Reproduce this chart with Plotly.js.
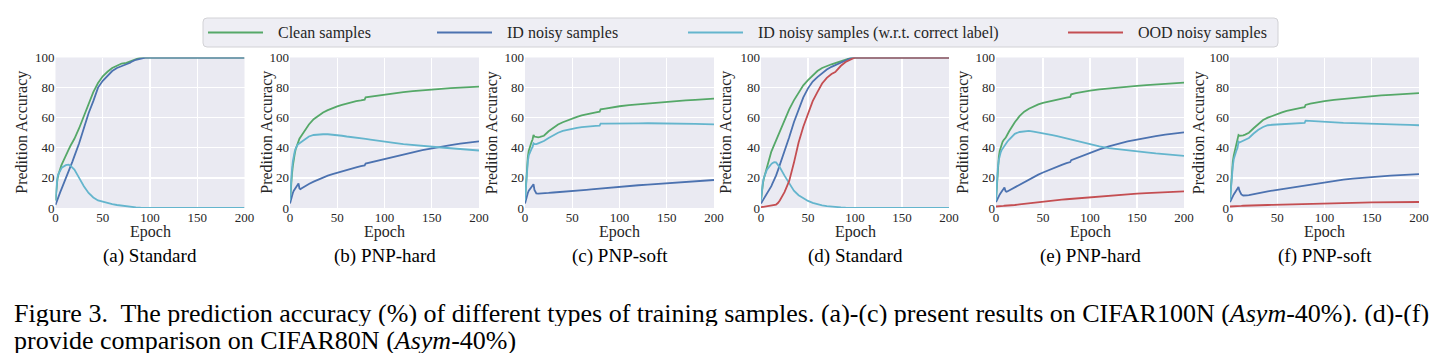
<!DOCTYPE html>
<html>
<head>
<meta charset="utf-8">
<script src="https://cdn.plot.ly/plotly-3.0.1.min.js"></script>
<style>
  html, body { margin: 0; padding: 0; background: #ffffff; }
  #chart { width: 1448px; height: 364px; }
</style>
</head>
<body>
<div id="chart"></div>
<script>
// ---------------- DATA ----------------
const EPOCHS = [0,1,2,3,4,5,6,7,8,9,10,11,12,14,16,18,20,25,30,35,40,45,50,55,60,65,70,75,79,80,85,90,95,100,110,120,130,140,150,160,170,180,190,200];

const SERIES_NAMES = ["Clean samples", "ID noisy samples", "ID noisy samples (w.r.t. correct label)", "OOD noisy samples"];
const PANEL_LABELS = ["(a) Standard", "(b) PNP-hard", "(c) PNP-soft", "(d) Standard", "(e) PNP-hard", "(f) PNP-soft"];
const X_TITLE = "Epoch";
const Y_TITLE = "Predition Accuracy";
const X_TICKS = [0, 50, 100, 150, 200];
const Y_TICKS = [0, 20, 40, 60, 80, 100];
const CAPTION_1 = "Figure 3.  The prediction accuracy (%) of different types of training samples. (a)-(c) present results on CIFAR100N (<i>Asym</i>-40%). (d)-(f)";
const CAPTION_2 = "provide comparison on CIFAR80N (<i>Asym</i>-40%)";

// (a) Standard, CIFAR100N
const A_CLEAN = [5,14,19,22,24.5,26.5,28,29.5,31,32.5,33.5,35,36.5,39,41.5,43.5,46,53,61,69,77,83,87.5,90.5,93,94.5,96,96.5,97.5,98,99.2,100,100,100,100,100,100,100,100,100,100,100,100,100];
const A_ID    = [2,4,6,7.5,9,10.5,12,13.5,15,16.5,18,19.5,21,24.5,28,31,34.5,43,53,63,71,80,84.5,88,91,93,94.5,95.5,96.5,97,98.5,99.5,100,100,100,100,100,100,100,100,100,100,100,100];
const A_IDC   = [5,15,20,22.5,24,25,26,27,27.5,28,28.3,28.5,28.7,28.8,28,27,25.5,20,14.5,10,7,5,4,3,2.5,2,1.5,1,0.7,0.6,0.4,0.2,0.1,0,0,0,0,0,0,0,0,0,0,0];

// (b) PNP-hard, CIFAR100N
const B_CLEAN = [4,15,22,28,33,36,39,41,43,44.5,46,47,48,50,52,54,55.5,59,61.5,63.5,65,66.5,67.5,68.5,69.5,70.2,71,71.5,72,73.5,74,74.5,75,75.5,76.3,77,77.6,78.2,78.7,79.2,79.6,80,80.3,80.6];
const B_ID    = [3,6,8,10,11.5,12.5,13.5,14.5,15.5,16.3,13,12.5,13,13.8,14.5,15.3,16,17.5,19,20.3,21.5,22.5,23.5,24.5,25.5,26.3,27,27.8,28.3,29.5,30.3,31,31.8,32.5,34,35.5,37,38.5,39.7,40.8,41.8,42.8,43.6,44.3];
const B_IDC   = [5,17,25,31,35,37.5,39.5,41,42,42.5,43,43.5,44,45,46,47,47.5,48.5,49,49,49,48.8,48.5,48,47.5,47.2,47,46.5,46,46,45.5,45,44.5,44,43.3,42.5,41.8,41.2,40.7,40.2,39.7,39.2,38.7,38.2];

// (c) PNP-soft, CIFAR100N
const C_CLEAN = [5,18,28,34,38,40.5,42.5,44,45.5,48.5,47.5,47.3,47,47,47.2,47.5,48,51,53.5,55.5,57,58.3,59.5,60.5,61.5,62.3,63,63.6,64,65.5,66,66.6,67.1,67.6,68.4,69,69.6,70.2,70.7,71.1,71.5,71.9,72.3,72.7];
const C_ID    = [3,6,8,10,11.5,12.5,13.3,14,14.8,15.8,12,10.3,9.7,9.5,9.5,9.6,9.8,10,10.3,10.5,10.8,11,11.2,11.5,11.8,12.1,12.4,12.7,12.9,13.1,13.4,13.7,14,14.3,14.7,15.1,15.5,16,16.5,16.9,17.3,17.8,18.2,18.6];
const C_IDC   = [5,16,25,31,35,37,38.5,39.5,40.5,43,42.5,42.3,42.5,43,43.5,44,44.5,46.5,48.5,50,51.2,52,52.8,53.3,53.8,54.2,54.5,54.6,54.7,56,56,56.1,56.1,56.1,56.2,56.2,56.3,56.3,56.2,56.1,56,55.9,55.7,55.5];

// (d) Standard, CIFAR80N
const D_CLEAN = [5,12,16,19.5,22,24.5,27,29.5,31.5,33.5,35.5,37.5,39,42,45,48,51,59,65.5,71.5,77,81.5,85,88.2,91,93,94.5,95.5,96.3,96.5,97.5,98.7,99.6,100,100,100,100,100,100,100,100,100,100,100];
const D_ID    = [3,4,5.5,6.5,7.5,8.5,9.5,10.5,11.5,12.5,13.5,14.5,16,18.5,21.5,25,28.5,37,47,57,66,73.5,79.5,84,87,89.5,92,93.8,94.8,95,96.5,98,99.5,100,100,100,100,100,100,100,100,100,100,100];
const D_IDC   = [5,13,17,20,22,23.5,25,26,27,27.8,28.5,29.2,29.8,30.5,30.3,28.8,27,21.5,16,11.5,8.5,6.3,4.7,3.4,2.5,1.8,1.3,0.9,0.7,0.6,0.4,0.2,0.1,0,0,0,0,0,0,0,0,0,0,0];
const D_OOD   = [0.5,0.6,0.7,0.8,0.8,0.9,1,1,1.1,1.2,1.3,1.4,1.5,1.8,2.3,3.3,5,10.5,18,30,43.5,54,63,71,77,82.7,86.5,89,90.3,91,94.5,97,98.7,100,100,100,100,100,100,100,100,100,100,100];

// (e) PNP-hard, CIFAR80N
const E_CLEAN = [5,18,28,34,38,40.5,42.5,44,45,45.5,46.5,47.5,49,51,53,55,57,61,64,66,67.5,68.8,69.8,70.6,71.4,72.1,72.8,73.4,73.8,75.5,76.3,77,77.5,78,78.8,79.5,80.1,80.7,81.2,81.7,82.2,82.6,83,83.3];
const E_ID    = [4,5.5,7,8,9,10,11,12,13,13.6,11.5,10.8,11,11.7,12.4,13.1,13.8,15.5,17.3,19,20.7,22.2,23.6,25,26.3,27.5,28.7,29.8,30.5,31.8,33,34.3,35.5,36.8,39,41,42.7,44.2,45.5,46.8,47.8,48.8,49.6,50.3];
const E_IDC   = [5,18,27,32,35,37,38.5,39.5,40.5,41.5,42.5,43.3,44,45.5,47,48.3,49.3,50.5,51,51.2,50.8,50.3,49.8,49.2,48.5,47.8,47,46.3,45.7,45.5,44.8,44,43.2,42.4,41,39.8,39,38.3,37.6,37,36.3,35.7,35.2,34.7];
const E_OOD   = [1,1,1.1,1.2,1.2,1.3,1.3,1.4,1.4,1.5,1.5,1.6,1.6,1.7,1.8,1.9,2,2.4,2.8,3.2,3.6,4,4.3,4.6,4.9,5.2,5.5,5.8,6,6.4,6.7,7,7.2,7.4,7.9,8.4,8.8,9.2,9.6,9.9,10.2,10.5,10.8,11];

// (f) PNP-soft, CIFAR80N
const F_CLEAN = [5,16,25,31,35,37.5,40,42,44,48.5,48,48,48,48.3,48.8,49.3,50,53,56,58.5,60,61.3,62.5,63.5,64.5,65.3,66,66.6,67,68.5,69.3,70,70.5,71,71.8,72.5,73.2,73.8,74.3,74.8,75.2,75.6,76,76.3];
const F_ID    = [4,5.5,7,8,9,10,11,12,13,14,11.5,10,9,8.3,8.2,8.4,8.6,9.3,10,10.6,11.1,11.6,12.1,12.6,13.1,13.6,14.1,14.6,14.9,15.2,15.7,16.2,16.7,17.2,18,18.8,19.5,20.1,20.6,21.1,21.5,21.9,22.2,22.5];
const F_IDC   = [5,14,22,28,32.5,35,37,38.5,40,44,43.5,43.8,44,44.5,45,45.7,46.5,49.5,52,53.8,55,55.3,55.5,55.7,56,56.2,56.4,56.5,56.6,58,57.8,57.5,57.2,57,56.8,56.6,56.4,56.3,56,55.8,55.6,55.4,55.2,55];
const F_OOD   = [1,1,1.1,1.1,1.2,1.2,1.2,1.3,1.3,1.3,1.4,1.4,1.4,1.5,1.5,1.6,1.6,1.7,1.8,1.9,2,2.1,2.2,2.3,2.4,2.5,2.6,2.7,2.8,2.8,2.9,3,3.1,3.2,3.3,3.4,3.5,3.6,3.7,3.8,3.9,3.9,4,4];

const PANELS = [
  [A_CLEAN, A_ID, A_IDC, null],
  [B_CLEAN, B_ID, B_IDC, null],
  [C_CLEAN, C_ID, C_IDC, null],
  [D_CLEAN, D_ID, D_IDC, D_OOD],
  [E_CLEAN, E_ID, E_IDC, E_OOD],
  [F_CLEAN, F_ID, F_IDC, F_OOD]
];

// ---------------- STYLE ----------------
const W = 1448, H = 364;
const COLORS = ["#55A868", "#4C72B0", "#64B5CD", "#C44E52"];
const SERIF = "'Liberation Serif', 'Times New Roman', 'DejaVu Serif', serif";
const TXT = "#262626";
const PLOT_LEFT = [55.5, 290, 525, 761, 996, 1230];
const PLOT_W = [189, 189, 189, 188, 188, 189];
const PLOT_TOP = 57.5, PLOT_BOTTOM = 208;
const YTITLE_OFF = [-33.5, -23, -33.5, -35, -33, -31.5];

const px = x => x / W;
const py = y => 1 - y / H;

const traces = [];
const layout = {
  width: W, height: H,
  margin: {l: 0, r: 0, t: 0, b: 0},
  paper_bgcolor: "#ffffff",
  plot_bgcolor: "#EAEAF2",
  showlegend: false,
  font: {family: SERIF, color: TXT},
  shapes: [],
  annotations: []
};

PANELS.forEach((series, i) => {
  const sfx = i === 0 ? "" : String(i + 1);
  series.forEach((ys, k) => {
    if (!ys) return;
    traces.push({
      type: "scatter", mode: "lines",
      x: EPOCHS, y: ys, name: SERIES_NAMES[k],
      xaxis: "x" + sfx, yaxis: "y" + sfx,
      line: {color: COLORS[k], width: 1.8},
      hoverinfo: "skip"
    });
  });
  layout["xaxis" + sfx] = {
    domain: [px(PLOT_LEFT[i]), px(PLOT_LEFT[i] + PLOT_W[i])],
    anchor: "y" + sfx, range: [0, 200],
    tickvals: X_TICKS, ticktext: X_TICKS.map(String),
    showgrid: true, gridcolor: "#ffffff", gridwidth: 1.2,
    zeroline: false, showline: false, ticks: "",
    tickfont: {family: SERIF, size: 13, color: TXT},
    automargin: false, fixedrange: true
  };
  layout["yaxis" + sfx] = {
    domain: [py(PLOT_BOTTOM), py(PLOT_TOP)],
    anchor: "x" + sfx, range: [0, 100],
    tickvals: Y_TICKS, ticktext: Y_TICKS.map(String),
    showgrid: true, gridcolor: "#ffffff", gridwidth: 1.2,
    zeroline: false, showline: false, ticks: "",
    tickfont: {family: SERIF, size: 13, color: TXT},
    automargin: false, fixedrange: true
  };
  const cx = PLOT_LEFT[i] + PLOT_W[i] / 2;
  layout.annotations.push({
    xref: "paper", yref: "paper", x: px(PLOT_LEFT[i] + YTITLE_OFF[i]), y: py((PLOT_TOP + PLOT_BOTTOM) / 2),
    text: Y_TITLE, textangle: -90, showarrow: false, xanchor: "center", yanchor: "middle",
    font: {family: SERIF, size: 16, color: TXT}
  });
  layout.annotations.push({
    xref: "paper", yref: "paper", x: px(cx), y: py(232.5),
    text: X_TITLE, showarrow: false, xanchor: "center", yanchor: "middle",
    font: {family: SERIF, size: 16, color: TXT}
  });
  layout.annotations.push({
    xref: "paper", yref: "paper", x: px(cx), y: py(256),
    text: PANEL_LABELS[i], showarrow: false, xanchor: "center", yanchor: "middle",
    font: {family: SERIF, size: 19, color: "#000000"}
  });
});

// Legend (drawn as a framed box with line samples)
const LEG_L = 203, LEG_R = 1278, LEG_T = 18, LEG_B = 47, R = 4;
layout.shapes.push({
  type: "path", xref: "paper", yref: "paper",
  path: `M ${px(LEG_L + R)},${py(LEG_T)} L ${px(LEG_R - R)},${py(LEG_T)} Q ${px(LEG_R)},${py(LEG_T)} ${px(LEG_R)},${py(LEG_T + R)} ` +
        `L ${px(LEG_R)},${py(LEG_B - R)} Q ${px(LEG_R)},${py(LEG_B)} ${px(LEG_R - R)},${py(LEG_B)} ` +
        `L ${px(LEG_L + R)},${py(LEG_B)} Q ${px(LEG_L)},${py(LEG_B)} ${px(LEG_L)},${py(LEG_B - R)} ` +
        `L ${px(LEG_L)},${py(LEG_T + R)} Q ${px(LEG_L)},${py(LEG_T)} ${px(LEG_L + R)},${py(LEG_T)} Z`,
  fillcolor: "#EEEEF4", line: {color: "#D2D2D6", width: 1}
});
const LEG_X = [208, 437, 688, 1068];
const LEG_Y = 32.5;
SERIES_NAMES.forEach((name, k) => {
  layout.shapes.push({
    type: "line", xref: "paper", yref: "paper",
    x0: px(LEG_X[k]), x1: px(LEG_X[k] + 55), y0: py(LEG_Y), y1: py(LEG_Y),
    line: {color: COLORS[k], width: 2}
  });
  layout.annotations.push({
    xref: "paper", yref: "paper", x: px(LEG_X[k] + 68), y: py(LEG_Y),
    text: name, showarrow: false, xanchor: "left", yanchor: "middle",
    font: {family: SERIF, size: 16, color: TXT}
  });
});

// Caption (two lines, fixed box height so the lines sit close like the original)
layout.annotations.push({
  xref: "paper", yref: "paper", x: px(12), y: py(312.5),
  text: CAPTION_1, showarrow: false, xanchor: "left", yanchor: "middle", height: 26,
  font: {family: SERIF, size: 26, color: "#000000"}
});
layout.annotations.push({
  xref: "paper", yref: "paper", x: px(12), y: py(339.5),
  text: CAPTION_2, showarrow: false, xanchor: "left", yanchor: "middle", height: 26,
  font: {family: SERIF, size: 26, color: "#000000"}
});

Plotly.newPlot("chart", traces, layout, {staticPlot: true, displayModeBar: false});
</script>
</body>
</html>
